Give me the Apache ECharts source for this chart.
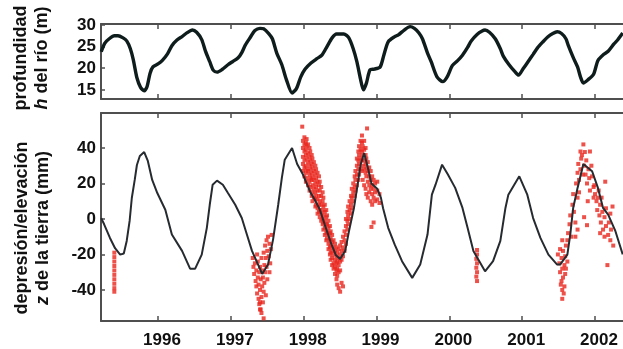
<!DOCTYPE html>
<html>
<head>
<meta charset="utf-8">
<script src="https://cdn.jsdelivr.net/npm/echarts@6/dist/echarts.min.js"></script>
<style>
html,body{margin:0;padding:0;background:#fff;}
#c{width:623px;height:349px;}
</style>
</head>
<body>
<div id="c"></div>
<script>
// ---- data ----
const yearTicks = [1996, 1997, 1998, 1999, 2000, 2001, 2002];
const depthTicks = [15, 20, 25, 30];
const zTicks = [-40, -20, 0, 20, 40];

// river depth h (m): [year, h]
const riverDepth = [
 [1995.22,23.8],[1995.27,25.8],[1995.33,26.8],[1995.40,27.5],[1995.45,27.5],[1995.52,27.0],[1995.57,26.3],
 [1995.62,24.5],[1995.66,22.0],[1995.71,17.8],[1995.76,15.6],[1995.81,14.8],[1995.85,15.8],[1995.89,18.8],
 [1995.93,20.3],[1996.00,21.0],[1996.06,21.8],[1996.13,23.3],[1996.19,25.2],[1996.26,26.5],[1996.33,27.3],
 [1996.40,28.2],[1996.47,28.8],[1996.53,28.3],[1996.60,26.6],[1996.65,24.0],[1996.71,21.5],[1996.76,19.5],
 [1996.81,19.1],[1996.88,19.7],[1996.96,20.8],[1997.03,21.6],[1997.10,22.4],[1997.15,23.6],[1997.20,25.4],
 [1997.27,27.2],[1997.33,28.7],[1997.40,29.2],[1997.45,29.1],[1997.52,28.0],[1997.57,26.8],[1997.63,23.5],
 [1997.70,20.8],[1997.76,17.5],[1997.84,14.3],[1997.90,15.3],[1997.96,18.0],[1998.02,19.8],[1998.10,21.2],
 [1998.18,22.2],[1998.25,23.0],[1998.32,25.0],[1998.39,27.0],[1998.45,27.9],[1998.55,27.9],[1998.62,27.0],
 [1998.68,24.5],[1998.73,21.5],[1998.78,17.5],[1998.82,15.0],[1998.86,16.5],[1998.91,19.6],[1998.97,19.8],
 [1999.05,20.3],[1999.10,23.0],[1999.16,26.1],[1999.25,27.3],[1999.30,27.7],[1999.38,28.8],[1999.46,29.6],
 [1999.52,29.2],[1999.58,28.2],[1999.63,26.8],[1999.70,23.5],[1999.75,21.5],[1999.83,18.0],[1999.91,16.9],
 [1999.97,18.0],[2000.04,20.6],[2000.11,21.7],[2000.18,23.0],[2000.25,24.8],[2000.30,26.3],[2000.38,27.8],
 [2000.45,28.6],[2000.49,28.8],[2000.55,28.3],[2000.63,26.8],[2000.70,24.5],[2000.74,22.8],[2000.82,20.8],
 [2000.90,19.2],[2000.95,18.4],[2001.01,19.8],[2001.08,21.5],[2001.15,23.2],[2001.21,24.7],[2001.28,26.0],
 [2001.35,27.2],[2001.42,28.0],[2001.48,28.4],[2001.54,28.0],[2001.60,26.8],[2001.63,25.4],[2001.70,22.5],
 [2001.76,20.3],[2001.80,18.0],[2001.84,16.6],[2001.90,17.3],[2001.98,18.6],[2002.04,21.8],[2002.12,23.2],
 [2002.18,23.9],[2002.26,25.6],[2002.31,26.5],[2002.38,28.1]
];

// ground depression/elevation z (mm), model line: [year, z]
const groundModel = [
 [1995.22,0.5],[1995.26,-3],[1995.34,-10.7],[1995.41,-16.5],[1995.48,-20.1],[1995.53,-19.5],[1995.57,-12.4],
 [1995.61,-1.1],[1995.64,11.8],[1995.68,22.0],[1995.71,30.4],[1995.75,35.5],[1995.81,37.7],[1995.86,32.7],
 [1995.92,22.0],[1995.99,14.6],[1996.10,5.2],[1996.19,-8.8],[1996.33,-18.0],[1996.44,-28.0],[1996.51,-28.0],
 [1996.60,-20.1],[1996.67,-5.0],[1996.71,8.0],[1996.75,19.3],[1996.81,21.6],[1996.89,19.3],[1996.96,14.6],
 [1997.06,8.0],[1997.15,0.5],[1997.22,-8.8],[1997.29,-18.0],[1997.43,-31.0],[1997.51,-25.7],[1997.58,-11.5],
 [1997.65,8.0],[1997.70,23.1],[1997.74,33.4],[1997.84,40.0],[1997.91,31.0],[1997.99,25.0],[1998.09,15.2],
 [1998.15,11.0],[1998.22,5.5],[1998.29,-3.3],[1998.37,-13.0],[1998.44,-20.3],[1998.50,-22.5],[1998.57,-18.0],
 [1998.62,-7.3],[1998.69,6.2],[1998.74,19.2],[1998.78,30.4],[1998.83,37.2],[1998.88,29.0],[1998.93,20.0],
 [1999.01,17.0],[1999.06,12.0],[1999.09,6.0],[1999.16,-5.0],[1999.25,-14.5],[1999.35,-23.8],[1999.49,-33.2],
 [1999.60,-25.7],[1999.70,-8.8],[1999.76,13.7],[1999.81,19.3],[1999.90,30.6],[1999.98,25.0],[2000.08,17.5],
 [2000.18,6.2],[2000.25,-5.0],[2000.33,-18.0],[2000.49,-29.5],[2000.60,-23.8],[2000.70,-12.4],[2000.77,6.2],
 [2000.81,13.7],[2000.96,24.0],[2001.07,13.7],[2001.15,0.5],[2001.25,-10.7],[2001.36,-20.1],[2001.48,-25.7],
 [2001.52,-25.7],[2001.62,-20.1],[2001.66,-8.8],[2001.70,6.2],[2001.76,17.5],[2001.84,31.0],[2001.96,26.9],
 [2002.04,17.5],[2002.11,6.2],[2002.18,2.4],[2002.28,-6.9],[2002.38,-20.0]
];

// measured z (mm), red points: [year, z]
const groundMeasured = [
 // 1995
 [1995.40,-19],[1995.40,-21.5],[1995.40,-24],[1995.40,-26.5],[1995.40,-29],[1995.40,-31.5],[1995.40,-34],[1995.40,-36.5],[1995.40,-39],[1995.40,-41],
 // 1997
 [1997.30,-22],[1997.31,-27],[1997.32,-31],[1997.33,-25],[1997.34,-35],[1997.35,-29],[1997.35,-38],[1997.36,-42],[1997.37,-33],[1997.37,-24],
 [1997.38,-45],[1997.38,-37],[1997.39,-30],[1997.39,-48],[1997.40,-40],[1997.40,-27],[1997.41,-34],[1997.41,-51],[1997.42,-44],[1997.42,-22],
 [1997.43,-38],[1997.43,-29],[1997.44,-47],[1997.44,-33],[1997.45,-41],[1997.45,-19],[1997.46,-26],[1997.46,-36],[1997.47,-30],[1997.47,-15],
 [1997.48,-22],[1997.48,-43],[1997.49,-12],[1997.49,-27],[1997.50,-18],[1997.50,-34],[1997.51,-10],[1997.52,-21],[1997.53,-14],[1997.54,-25],
 [1997.55,-17],[1997.45,-56],[1997.42,-53],[1997.36,-20],[1997.53,-30],[1997.56,-9],[1997.40,-47],[1997.40,-51],
 // 1998 falling
 [1997.98,52],
 [1997.99,44],[1997.99,40],[1997.99,35],[1997.99,31],[1997.99,27],
 [1998.01,46],[1998.01,42],[1998.01,38],[1998.01,33],[1998.01,29],[1998.01,24],
 [1998.03,43],[1998.03,39],[1998.03,36],[1998.03,30],[1998.03,26],[1998.03,21],
 [1998.04,45],[1998.04,41],[1998.04,34],[1998.04,28],[1998.04,23],
 [1998.06,42],[1998.06,37],[1998.06,32],[1998.06,27],[1998.06,19],
 [1998.08,40],[1998.08,35],[1998.08,30],[1998.08,25],[1998.08,21],[1998.08,16],
 [1998.09,38],[1998.09,33],[1998.09,28],[1998.09,23],[1998.09,18],
 [1998.11,36],[1998.11,31],[1998.11,26],[1998.11,22],[1998.11,13],
 [1998.12,34],[1998.12,29],[1998.12,24],[1998.12,19],[1998.12,15],[1998.12,10],
 [1998.14,32],[1998.14,27],[1998.14,22],[1998.14,17],[1998.14,12],
 [1998.16,30],[1998.16,25],[1998.16,20],[1998.16,15],[1998.16,11],[1998.16,7],
 [1998.17,28],[1998.17,23],[1998.17,18],[1998.17,13],[1998.17,8],
 [1998.19,26],[1998.19,21],[1998.19,16],[1998.19,11],[1998.19,6],[1998.19,3],
 [1998.21,24],[1998.21,19],[1998.21,13],[1998.21,8],[1998.21,4],
 [1998.22,21],[1998.22,16],[1998.22,10],[1998.22,5],[1998.22,1],
 [1998.24,18],[1998.24,13],[1998.24,8],[1998.24,3],[1998.24,-1],
 [1998.26,15],[1998.26,10],[1998.26,5],[1998.26,0],[1998.26,-3],
 [1998.27,12],[1998.27,7],[1998.27,2],[1998.27,-2],[1998.27,-6],
 [1998.29,8],[1998.29,4],[1998.29,-1],[1998.29,-5],[1998.29,-9],
 [1998.31,5],[1998.31,1],[1998.31,-3],[1998.31,-8],[1998.31,-12],
 [1998.32,2],[1998.32,-3],[1998.32,-7],[1998.32,-11],
 [1998.34,-1],[1998.34,-5],[1998.34,-9],[1998.34,-14],[1998.34,-17],
 [1998.36,-4],[1998.36,-8],[1998.36,-12],[1998.36,-16],[1998.36,-20],
 [1998.37,-7],[1998.37,-11],[1998.37,-15],[1998.37,-19],[1998.37,-23],
 [1998.39,-9],[1998.39,-13],[1998.39,-18],[1998.39,-22],[1998.39,-26],
 [1998.41,-12],[1998.41,-16],[1998.41,-20],[1998.41,-25],[1998.41,-28],
 [1998.43,-14],[1998.43,-18],[1998.43,-23],[1998.43,-27],[1998.43,-31],
 [1998.45,-16],[1998.45,-21],[1998.45,-25],[1998.45,-29],[1998.45,-34],
 [1998.46,-19],[1998.46,-24],[1998.46,-28],[1998.46,-32],[1998.46,-37],
 [1998.48,-17],[1998.48,-22],[1998.48,-26],[1998.48,-30],[1998.48,-39],
 [1998.50,-15],[1998.50,-20],[1998.50,-24],[1998.50,-29],[1998.50,-41],
 [1998.52,-13],[1998.52,-18],[1998.52,-23],[1998.52,-36],
 [1998.54,-10],[1998.54,-16],[1998.54,-21],[1998.54,-38],
 // 1998 rising
 [1998.56,-7],[1998.56,-12],[1998.56,-18],
 [1998.58,-4],[1998.58,-9],[1998.58,-14],[1998.58,0],
 [1998.60,-1],[1998.60,-6],[1998.60,4],
 [1998.61,2],[1998.61,7],[1998.61,-3],
 [1998.63,5],[1998.63,10],[1998.63,0],
 [1998.65,8],[1998.65,13],[1998.65,3],
 [1998.66,12],[1998.66,17],[1998.66,6],
 [1998.68,15],[1998.68,20],[1998.68,10],
 [1998.70,18],[1998.70,24],[1998.70,13],
 [1998.71,22],[1998.71,27],[1998.71,16],
 [1998.73,25],[1998.73,30],[1998.73,19],[1998.73,34],
 [1998.75,28],[1998.75,33],[1998.75,38],[1998.75,22],
 [1998.76,31],[1998.76,36],[1998.76,41],[1998.76,25],
 [1998.78,34],[1998.78,39],[1998.78,44],[1998.78,28],
 [1998.80,33],[1998.80,38],[1998.80,43],[1998.80,47],[1998.80,27],
 [1998.81,30],[1998.81,36],[1998.81,41],[1998.81,22],
 [1998.83,28],[1998.83,33],[1998.83,39],[1998.83,44],[1998.83,19],
 [1998.85,26],[1998.85,31],[1998.85,36],[1998.85,40],[1998.85,17],
 [1998.86,24],[1998.86,29],[1998.86,34],[1998.86,14],
 [1998.87,51],
 [1998.88,21],[1998.88,27],[1998.88,32],[1998.88,12],
 [1998.90,19],[1998.90,24],[1998.90,29],[1998.90,15],
 [1998.92,17],[1998.92,22],[1998.92,27],[1998.92,10],
 [1998.93,-4.5],
 [1998.94,14],[1998.94,19],[1998.94,24],[1998.94,8],
 [1998.96,12],[1998.96,17],[1998.96,22],[1998.96,-2],
 [1998.98,10],[1998.98,15],[1998.98,20],
 [1999.01,11],[1999.01,16],[1999.01,21],
 [1999.04,9],[1999.04,14],
 // 2000
 [2000.38,-17.5],[2000.38,-20],[2000.37,-22.5],[2000.38,-25],[2000.37,-27.5],[2000.38,-30],[2000.37,-32.5],[2000.38,-35],
 // 2001-2002
 [2001.49,-20],[2001.51,-25],[2001.52,-30],[2001.54,-22],[2001.54,-35],[2001.55,-28],[2001.55,-40],[2001.56,-18],[2001.56,-33],[2001.58,-26],
 [2001.58,-38],[2001.59,-21],[2001.59,-31],[2001.60,-15],[2001.60,-28],[2001.62,-24],[2001.62,-12],[2001.55,-45],[2001.53,-37],[2001.57,-42],
 [2001.63,-8],[2001.65,-3],[2001.66,2],[2001.67,-10],[2001.69,8],[2001.70,14],[2001.71,4],[2001.73,-2],[2001.74,20],[2001.76,-6],
 [2001.76,12],[2001.55,-12],[2001.52,-17],[2001.73,-10],
 [2001.76,26],[2001.77,31],[2001.78,22],[2001.80,28],[2001.81,34],[2001.82,36],[2001.84,42],[2001.85,30],[2001.87,25],[2001.88,33],
 [2001.89,20],[2001.91,28],[2001.93,38],[2001.92,23],[2001.93,16],[2001.95,30],[2001.96,24],[2001.98,12],[2001.99,19],[2001.85,1],
 [2001.89,-3.5],[2001.80,38],[2001.86,37.7],[2001.78,15],[2001.83,25],[2001.90,10],
 [2001.98,18],[2002.00,14],[2002.02,10],[2002.03,5],[2002.04,12],[2002.06,2],[2002.07,8],[2002.08,-2],[2002.10,4],[2002.11,-6],
 [2002.13,1],[2002.14,21],[2002.15,-4],[2002.15,6],[2002.17,-26],[2002.18,-9],[2002.19,-2],[2002.21,-12],[2002.22,-6],[2002.24,7],
 [2002.25,-15],[2002.21,3],[2002.13,-10],[2002.07,-8],[2002.05,16],[2002.09,12]
];

// ---- chart ----
const FONT = '"Liberation Sans", Arial, sans-serif';
const frame = { lineStyle: { color: '#4f4f4f', width: 2 } };
const tickStyle = { lineStyle: { color: '#4f4f4f', width: 1.5 } };
const X_MIN = 1995.217, X_MAX = 2002.384;

function xAx(grid, pos, labels) {
  return {
    type: 'value', gridIndex: grid, position: pos, min: X_MIN, max: X_MAX,
    axisLine: { show: true, onZero: false, ...frame },
    axisTick: { show: true, inside: true, length: 5, customValues: yearTicks, ...tickStyle },
    axisLabel: labels ? {
      show: true, customValues: yearTicks, margin: 11, padding: [0, 0, 0, 8],
      fontFamily: FONT, fontWeight: 'bold', fontSize: 17, color: '#111',
      formatter: v => String(Math.round(v))
    } : { show: false },
    splitLine: { show: false }
  };
}
function yAx(grid, min, max, ticks) {
  return {
    type: 'value', gridIndex: grid, min: min, max: max,
    axisLine: { show: true, onZero: false, ...frame },
    axisTick: { show: true, inside: true, length: 4, customValues: ticks, ...tickStyle },
    axisLabel: {
      show: true, customValues: ticks, margin: 5,
      fontFamily: FONT, fontWeight: 'bold', fontSize: 17, color: '#111',
      formatter: v => String(Math.round(v))
    },
    splitLine: { show: false }
  };
}

const chart = echarts.init(document.getElementById('c'), null, { renderer: 'canvas' });
chart.setOption({
  animation: false,
  backgroundColor: '#fff',
  grid: [
    { left: 101, top: 24, right: 0, height: 75, containLabel: false },
    { left: 101, top: 113, right: 0, height: 208, containLabel: false }
  ],
  xAxis: [xAx(0, 'bottom', false), xAx(0, 'top', false), xAx(1, 'bottom', true), xAx(1, 'top', false)],
  yAxis: [yAx(0, 12.9, 30.2, depthTicks), yAx(1, -57.5, 59.7, zTicks)],
  series: [
    {
      type: 'line', xAxisIndex: 0, yAxisIndex: 0, data: riverDepth, showSymbol: false,
      lineStyle: { color: '#0f1c1c', width: 3.4 }, smooth: 0.25, z: 3
    },
    {
      type: 'scatter', xAxisIndex: 2, yAxisIndex: 1, data: groundMeasured,
      symbol: 'rect', symbolSize: 4, itemStyle: { color: '#e8261d' }, z: 2
    },
    {
      type: 'line', xAxisIndex: 2, yAxisIndex: 1, data: groundModel, showSymbol: false,
      lineStyle: { color: '#262b30', width: 2 }, z: 4
    }
  ],
  graphic: [
    {
      type: 'text', x: 32, y: 58, rotation: Math.PI / 2,
      style: {
        text: '{a|profundidad}\n{i|h}{a| del río (m)}',
        align: 'center', verticalAlign: 'middle', textAlign: 'center', textVerticalAlign: 'middle',
        rich: {
          a: { fontFamily: FONT, fontWeight: 'bold', fontSize: 18, lineHeight: 21, fill: '#111' },
          i: { fontFamily: FONT, fontWeight: 'bold', fontStyle: 'italic', fontSize: 18, lineHeight: 21, fill: '#111' }
        }
      }
    },
    {
      type: 'text', x: 33, y: 228, rotation: Math.PI / 2,
      style: {
        text: '{a|depresión/elevación}\n{i|z}{a| de la tierra (mm)}',
        align: 'center', verticalAlign: 'middle', textAlign: 'center', textVerticalAlign: 'middle',
        rich: {
          a: { fontFamily: FONT, fontWeight: 'bold', fontSize: 18, lineHeight: 21, fill: '#111' },
          i: { fontFamily: FONT, fontWeight: 'bold', fontStyle: 'italic', fontSize: 18, lineHeight: 21, fill: '#111' }
        }
      }
    }
  ]
});
</script>
</body>
</html>
